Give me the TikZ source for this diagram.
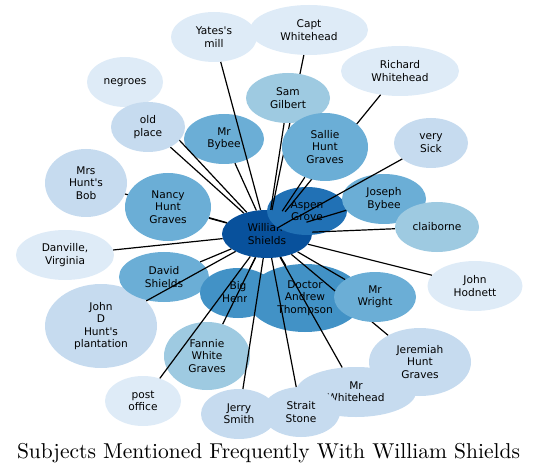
\documentclass[tikz,border=0pt]{standalone}
\usepackage{fontspec}
\newfontfamily\dvs{DejaVu Sans}
\usetikzlibrary{shapes.geometric}
\definecolor{cA}{HTML}{DEEBF7}
\definecolor{cB}{HTML}{C6DBEF}
\definecolor{cC}{HTML}{9ECAE1}
\definecolor{cD}{HTML}{6BAED6}
\definecolor{cE}{HTML}{4292C6}
\definecolor{cF}{HTML}{2171B5}
\definecolor{cG}{HTML}{08519C}
\pgfdeclarelayer{front}
\pgfsetlayers{main,front}
\tikzset{
  nd/.style={ellipse, inner sep=0pt, align=center, text=black,
    font=\dvs\fontsize{10.6bp}{12.4bp}\selectfont},
  sz/.style 2 args={minimum width=#1bp, minimum height=#2bp},
  edge/.style={black, line width=1.2bp},
}
\begin{document}
\begin{tikzpicture}[x=1bp,y=-1bp]
\useasboundingbox (0,0) rectangle (539,475);
% bottom layer nodes
\node[nd, fill=cA, sz={76}{50}, text depth=0pt] (negroes) at (125,82) {negroes};
\node[nd, fill=cA, sz={86}{50}] (yates) at (214,37) {Yates's\\mill};
\node[nd, fill=cA, sz={118}{50}] (capt) at (309,30) {Capt\\Whitehead};
\node[nd, fill=cA, sz={118}{50}] (richard) at (400,71) {Richard\\Whitehead};
\node[nd, fill=cB, sz={74}{50}] (sick) at (431,143) {very\\Sick};
\node[nd, fill=cA, sz={95}{50}] (hodnett) at (475,286) {John\\Hodnett};
\node[nd, fill=cA, sz={98}{50}] (danville) at (65,255) {Danville,\\Virginia};
\node[nd, fill=cB, sz={82}{68}] (mrshunt) at (86,183) {Mrs\\Hunt's\\Bob};
\node[nd, fill=cB, sz={112}{84}] (johnd) at (101,326) {John\\D\\Hunt's\\plantation};
\node[nd, fill=cA, sz={76}{50}] (post) at (143,401) {post\\office};
\node[nd, fill=cB, sz={76}{50}] (jerry) at (239,414) {Jerry\\Smith};
\node[nd, fill=cB, sz={120}{50}] (mrwhite) at (356,392) {Mr\\Whitehead};
\node[nd, fill=cB, sz={102}{68}] (jeremiah) at (420,362) {Jeremiah\\Hunt\\Graves};
\node[nd, fill=cB, sz={78}{50}] (strait) at (301,412) {Strait\\Stone};
\node[nd, fill=cC, sz={86}{68}] (fannie) at (207,356) {Fannie\\White\\Graves};
\node[nd, fill=cD, sz={90}{50}] (david) at (164,277) {David\\Shields};
\node[nd, fill=cD, sz={80}{50}] (mrbybee) at (224,139) {Mr\\Bybee};
\node[nd, fill=cE, sz={76}{50}] (henry) at (238,293) {Big\\Henry};
\node[nd, fill=cE, sz={116}{68}] (doctor) at (305,298) {Doctor\\Andrew\\Thompson};
\node[nd, fill=cG, sz={90}{48}] (ws) at (267,234) {William\\Shields};
\node[nd, fill=cF, sz={80}{48}] (aspen) at (307,211) {Aspen\\Grove};
\node[nd, fill=cD, sz={84}{50}] (joseph) at (384,199) {Joseph\\Bybee};
\node[nd, fill=cC, sz={84}{50}] (claiborne) at (437,227) {claiborne};
% top layer nodes (cover the connectors)
\begin{pgfonlayer}{front}
\node[nd, fill=cB, sz={74}{50}] (oldplace) at (148,127) {old\\place};
\node[nd, fill=cD, sz={86}{68}] (nancy) at (168,207) {Nancy\\Hunt\\Graves};
\node[nd, fill=cC, sz={84}{50}] (sam) at (288,98) {Sam\\Gilbert};
\node[nd, fill=cD, sz={86}{68}] (sallie) at (325,147) {Sallie\\Hunt\\Graves};
\node[nd, fill=cD, sz={82}{50}] (wright) at (375,297) {Mr\\Wright};
\end{pgfonlayer}
% edges
\foreach \t in {negroes,yates,capt,richard,sick,hodnett,danville,mrshunt,johnd,post,jerry,mrwhite,jeremiah,strait,fannie,david,mrbybee,henry,doctor,aspen,joseph,claiborne,oldplace,nancy,sallie,sam,wright}
  \draw[edge] (ws) -- (\t);
% title
\node[font=\fontsize{10bp}{12bp}\selectfont, scale=2.15] (title) at (268.5,453) {Subjects Mentioned Frequently With William Shields};
\end{tikzpicture}
\end{document}
